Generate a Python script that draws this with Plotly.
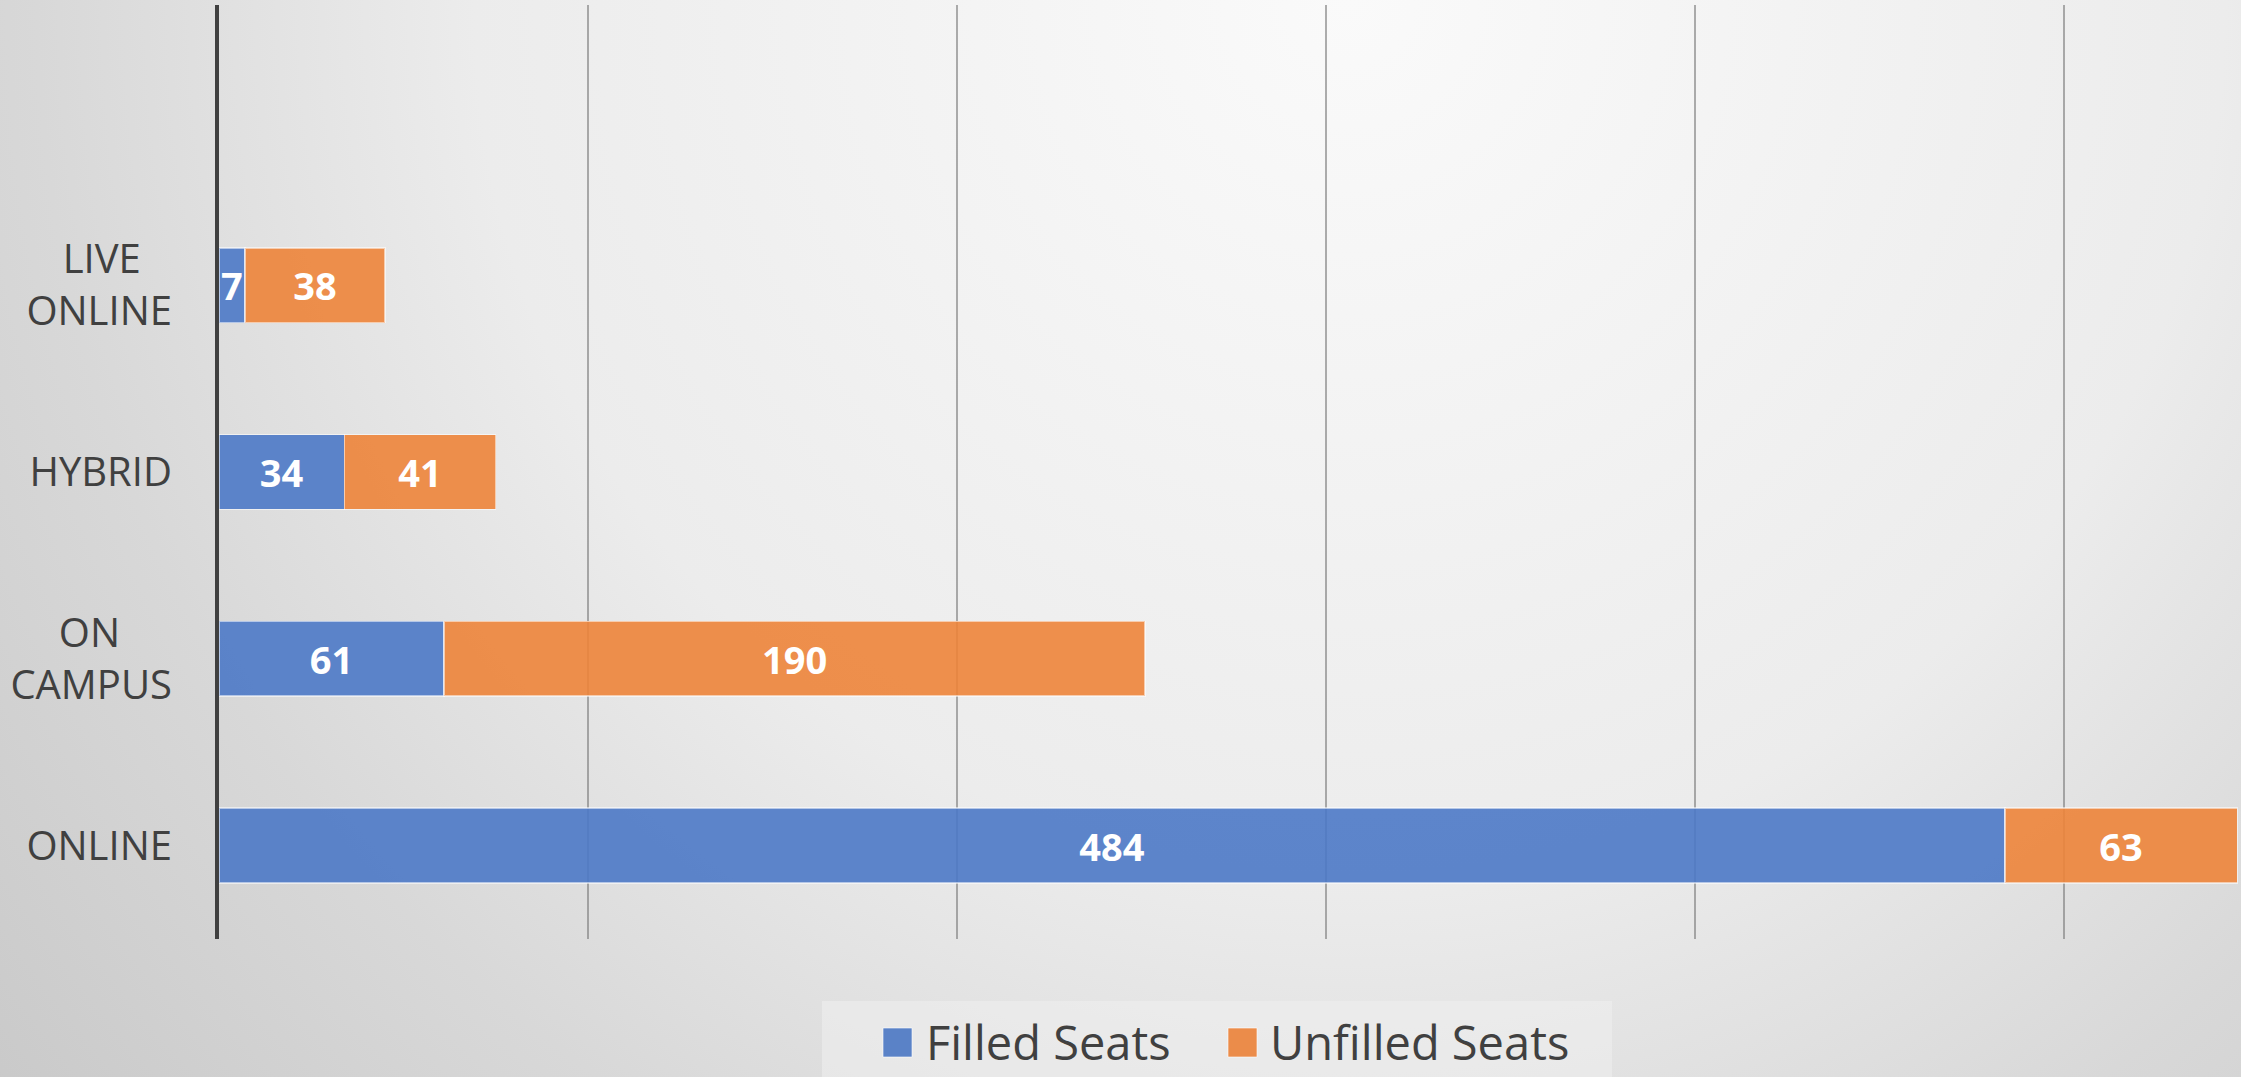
import base64
import plotly.graph_objects as go

# ---- data ----
categories = ["ONLINE", "ON CAMPUS", "HYBRID", "LIVE ONLINE"]
tick_labels = ["ONLINE",
               "\u00a0\u00a0\u00a0\u00a0\u00a0ON\u00a0\u00a0\u00a0\u00a0\u00a0<br>CAMPUS",
               "HYBRID",
               "\u00a0\u00a0\u00a0LIVE\u00a0\u00a0\u00a0<br>ONLINE"]
filled = [484, 61, 34, 7]
unfilled = [63, 190, 41, 38]
series_names = ["Filled Seats", "Unfilled Seats"]

W, H = 2241, 1077
ML, MR, MT, MB = 219, 0, 5, 138
PW, PH = W - ML - MR, H - MT - MB

def px_x(p):
    return (p - ML) / PW

def px_y(p):
    return (H - MB - p) / PH

BLUE = "rgba(76,121,198,0.9)"
ORANGE = "rgba(237,132,58,0.9)"
BLUE_SOLID = "#5A82C7"
ORANGE_SOLID = "#EB8C4A"
TEXT = "#404040"
FONT = "Open Sans"

fig = go.Figure()
for name, vals, col in [(series_names[0], filled, BLUE), (series_names[1], unfilled, ORANGE)]:
    fig.add_trace(go.Bar(
        name=name, y=categories, x=vals, orientation="h",
        marker=dict(color=col, line=dict(color="rgba(255,255,255,0.55)", width=1.5)),
        text=[str(v) for v in vals], textposition="inside", insidetextanchor="middle",
        constraintext="none",
        textfont=dict(family=FONT, size=38, color="white", weight="bold"),
        width=0.4, showlegend=False, hoverinfo="skip",
    ))

# background radial gradient
svg = f'''<svg xmlns="http://www.w3.org/2000/svg" width="{W}" height="{H}" viewBox="0 0 {W} {H}">
<defs><radialGradient id="g" gradientUnits="userSpaceOnUse" cx="1350" cy="0" r="1750">
<stop offset="0" stop-color="#fafafa"/>
<stop offset="0.5" stop-color="#ececec"/>
<stop offset="0.75" stop-color="#d8d8d8"/>
<stop offset="1" stop-color="#c9c9c9"/>
</radialGradient></defs>
<rect width="{W}" height="{H}" fill="url(#g)"/></svg>'''
src = "data:image/svg+xml;base64," + base64.b64encode(svg.encode()).decode()

fig.add_layout_image(dict(source=src, xref="paper", yref="paper",
                          x=px_x(0), y=px_y(0), sizex=W / PW, sizey=H / PH,
                          xanchor="left", yanchor="top", sizing="stretch", layer="below"))

# legend (drawn)
shapes = [
    dict(type="rect", xref="paper", yref="paper", x0=px_x(822), x1=px_x(1612),
         y0=px_y(1001), y1=px_y(1077), fillcolor="rgba(238,238,238,0.6)", line=dict(width=0), layer="below"),
    dict(type="rect", xref="paper", yref="paper", x0=px_x(883), x1=px_x(912),
         y0=px_y(1028), y1=px_y(1057), fillcolor=BLUE_SOLID, line=dict(color="rgba(255,255,255,0.6)", width=1)),
    dict(type="rect", xref="paper", yref="paper", x0=px_x(1228), x1=px_x(1257),
         y0=px_y(1028), y1=px_y(1057), fillcolor=ORANGE_SOLID, line=dict(color="rgba(255,255,255,0.6)", width=1)),
]
annotations = [
    dict(xref="paper", yref="paper", x=px_x(924), y=px_y(1042), text=series_names[0],
         showarrow=False, xanchor="left", yanchor="middle", font=dict(family=FONT, size=47, color=TEXT)),
    dict(xref="paper", yref="paper", x=px_x(1268), y=px_y(1042), text=series_names[1],
         showarrow=False, xanchor="left", yanchor="middle", font=dict(family=FONT, size=47, color=TEXT)),
]

fig.update_layout(
    width=W, height=H, barmode="stack",
    margin=dict(l=ML, r=MR, t=MT, b=MB, pad=0),
    paper_bgcolor="#dcdcdc", plot_bgcolor="rgba(0,0,0,0)",
    shapes=shapes, annotations=annotations, showlegend=False,
    xaxis=dict(range=[0, 548], tick0=0, dtick=100, showticklabels=False, ticks="",
               showgrid=True, gridcolor="rgba(120,120,120,0.6)", gridwidth=1.5,
               zeroline=False, showline=False, fixedrange=True),
    yaxis=dict(categoryorder="array", categoryarray=categories,
               tickmode="array", tickvals=categories, ticktext=tick_labels,
               range=[-0.5, 4.5], showgrid=False, zeroline=False,
               showline=True, linecolor="#404040", linewidth=4, ticks="",
               ticklabelstandoff=35,
               tickfont=dict(family=FONT, size=40, color=TEXT), fixedrange=True),
)

fig.write_html("out.html", config={"displayModeBar": False},
               post_script="document.body.style.margin='0';document.body.style.overflow='hidden';")
